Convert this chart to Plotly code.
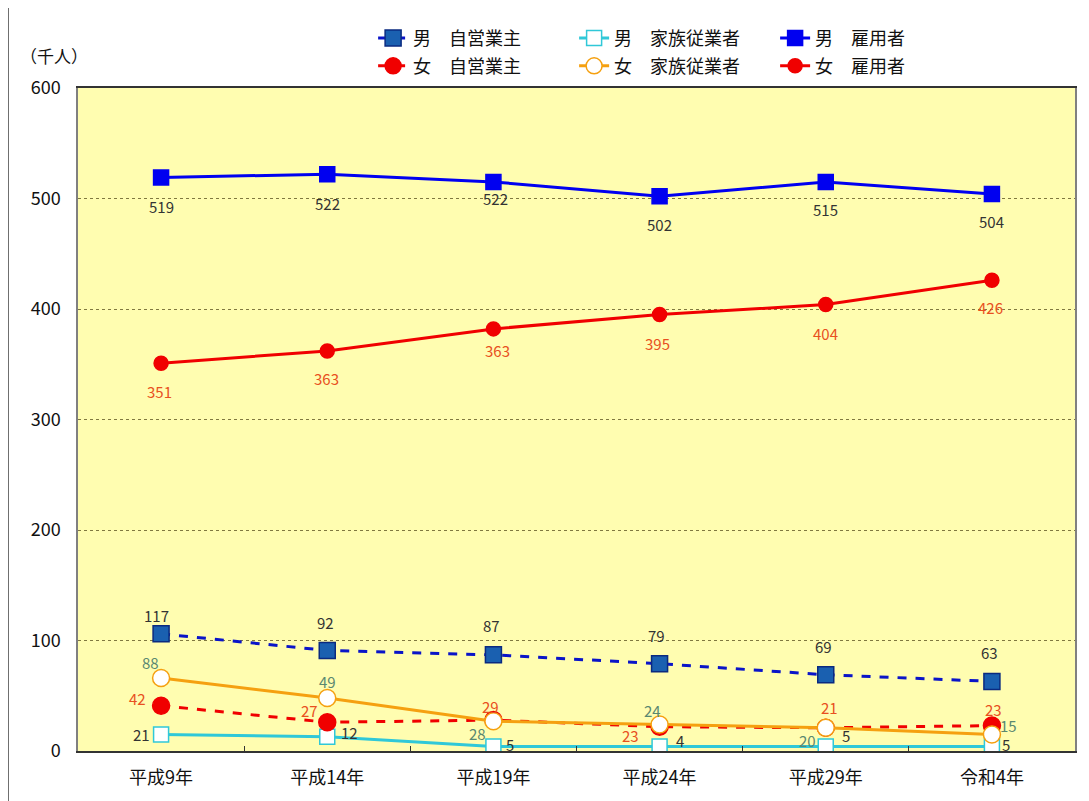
import plotly.graph_objects as go

categories = ["平成9年", "平成14年", "平成19年", "平成24年", "平成29年", "令和4年"]

# plotted values (as drawn)
m_self = [106, 91, 87, 79, 69, 63]
m_family = [15, 13, 4, 4, 4, 4]
m_employ = [519, 522, 515, 502, 515, 504]
f_self = [41, 26, 28, 22, 21, 23]
f_family = [66, 48, 27, 24, 21, 15]
f_employ = [351, 362, 382, 395, 404, 426]

# data labels (as printed)
m_self_lbl = ["117", "92", "87", "79", "69", "63"]
m_family_lbl = ["21", "12", "5", "4", "5", "5"]
m_employ_lbl = ["519", "522", "522", "502", "515", "504"]
f_self_lbl = ["42", "27", "29", "23", "21", "23"]
f_family_lbl = ["88", "49", "28", "24", "20", "15"]
f_employ_lbl = ["351", "363", "363", "395", "404", "426"]

FONT = "Noto Sans CJK JP"

fig = go.Figure()

def add(name, y, color, dash, symbol, mcolor, mline, size, legend):
    fig.add_trace(go.Scatter(
        x=categories, y=y, name=name, mode="lines+markers",
        line=dict(color=color, width=3, dash=dash),
        marker=dict(symbol=symbol, size=size, color=mcolor, line=dict(color=mline, width=1.5)),
        legend=legend))

add("男　自営業主", m_self, "#0A14C8", "dash", "square", "#1A60B0", "#0A2A80", 16, "legend")
add("男　家族従業者", m_family, "#30C8D8", "solid", "square", "#FFFFFF", "#30C8D8", 15, "legend")
add("男　雇用者", m_employ, "#0000F0", "solid", "square", "#0000F0", "#0000F0", 15, "legend")
add("女　自営業主", f_self, "#F00000", "dash", "circle", "#F00000", "#F00000", 17, "legend2")
add("女　家族従業者", f_family, "#F5A010", "solid", "circle", "#FFFFFF", "#F5A010", 17, "legend2")
add("女　雇用者", f_employ, "#F00000", "solid", "circle", "#F00000", "#F00000", 14, "legend2")

# label offsets (px): (dx, dy) with dy positive = up
label_sets = [
    (m_employ, m_employ_lbl, "#333333", [(0, -29), (0, -29), (2, -17), (0, -28), (0, -28), (0, -27)]),
    (f_employ, f_employ_lbl, "#E85020", [(-2, -28), (-1, -28), (4, -22), (-2, -29), (0, -29), (-1, -27)]),
    (m_self, m_self_lbl, "#333333", [(-5, 18), (-2, 28), (-2, 29), (-3, 28), (-2, 28), (-2, 29)]),
    (f_family, f_family_lbl, "#5A8870", [(-11, 16), (0, 16), (-16, -12), (-7, 14), (-18, -13), (17, 9)]),
    (f_self, f_self_lbl, "#E85020", [(-24, 7), (-18, 12), (-3, 14), (-29, -9), (4, 20), (2, 16)]),
    (m_family, m_family_lbl, "#333333", [(-20, 0), (22, 4), (17, 2), (20, 6), (20, 11), (14, 2)]),
]
for vals, lbls, col, offs in label_sets:
    for i, (v, t) in enumerate(zip(vals, lbls)):
        fig.add_annotation(x=categories[i], y=v, text=t, showarrow=False,
                           xshift=offs[i][0], yshift=offs[i][1],
                           font=dict(family=FONT, size=15, color=col))

fig.add_annotation(xref="paper", yref="paper", x=-0.024, y=1.0485, xanchor="center", yanchor="middle",
                   text="（千人）", showarrow=False, font=dict(family=FONT, size=17, color="#111111"))

# outer frame line on the left
fig.add_shape(type="line", xref="paper", yref="paper", x0=-0.07, x1=-0.07, y0=-0.08, y1=1.13,
              line=dict(color="#333333", width=1))

fig.update_layout(
    width=1081, height=793,
    margin=dict(l=70, r=12, t=78, b=49),
    paper_bgcolor="#FFFFFF",
    plot_bgcolor="#FFFDB0",
    font=dict(family=FONT, size=16, color="#111111"),
    showlegend=True,
    legend=dict(orientation="h", x=0.296, y=1.075, xanchor="left", yanchor="middle",
                entrywidth=156, font=dict(family=FONT, size=18), bgcolor="rgba(0,0,0,0)",
                traceorder="normal"),
    legend2=dict(orientation="h", x=0.296, y=1.033, xanchor="left", yanchor="middle",
                 entrywidth=156, font=dict(family=FONT, size=18), bgcolor="rgba(0,0,0,0)",
                 traceorder="normal"),
)
fig.update_xaxes(type="category", range=[-0.5, 5.5], showgrid=False,
                 showline=True, linecolor="#333333", linewidth=1.5, mirror=True,
                 ticks="inside", tickson="boundaries", ticklen=5, tickcolor="#333333",
                 ticklabelstandoff=10,
                 tickfont=dict(family=FONT, size=18, color="#111111"))
fig.update_yaxes(range=[0, 600], dtick=100, showgrid=True, gridcolor="#807840",
                 griddash="dot", gridwidth=1, zeroline=False,
                 showline=True, linecolor="#808080", linewidth=1.5, mirror=True,
                 ticks="", ticklabelstandoff=12,
                 tickfont=dict(family=FONT, size=18, color="#111111"))

fig.write_html("out.html")
